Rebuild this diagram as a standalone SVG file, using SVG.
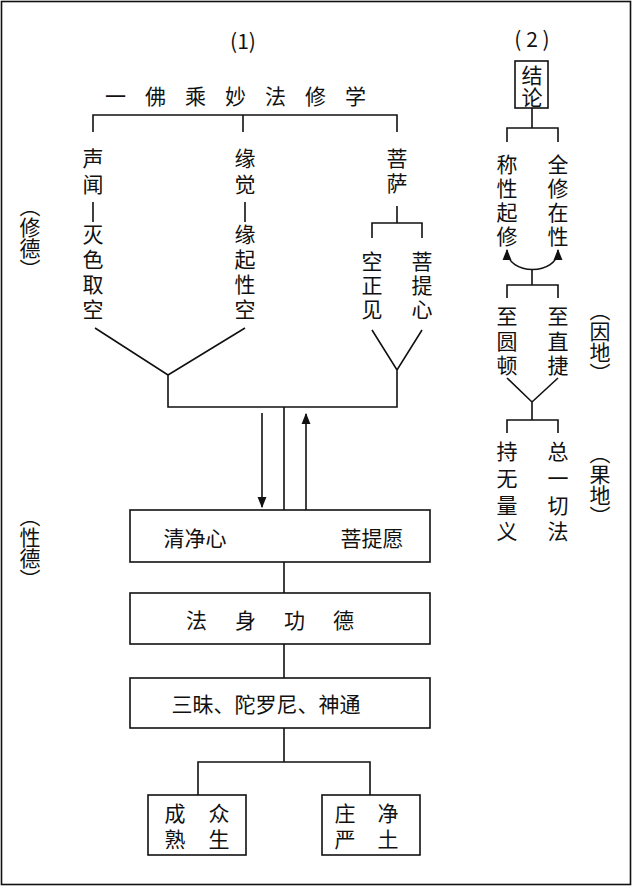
<svg xmlns="http://www.w3.org/2000/svg" width="632" height="886" viewBox="0 0 632 886">
<style>
text{font-family:"Noto Sans CJK SC","Liberation Serif",sans-serif;font-size:21px;fill:#111;text-anchor:middle;dominant-baseline:central}
.l{stroke:#111;stroke-width:1.6;fill:none}
.b{stroke:#111;stroke-width:1.6;fill:#fff}
.v{writing-mode:vertical-rl}
</style>
<defs><marker id="a" viewBox="0 0 10 10" refX="9" refY="5" markerWidth="7" markerHeight="7" orient="auto-start-reverse"><path d="M0,1L10,5L0,9z" fill="#111"/></marker></defs>
<rect x="1.5" y="1.5" width="629" height="883" class="l"/>
<g id="connectors">
<path class="l" d="M93,132V115H397V132M243,115V132M93,202V222M245,202V222M397,206V223M372,238V223H422V238"/>
<path class="l" d="M95,328L168,375L245,328M168,375V407H397V370M372,330L397,370L422,330M284,407V510"/>
<path class="l" d="M262,413V507" marker-end="url(#a)"/>
<path class="l" d="M306,510V414" marker-end="url(#a)"/>
<path class="l" d="M284,562V593M284,644V678M284,728V762M198,795V762H370V795"/>
<path class="l" d="M532,108V128M507,142V128H558V142"/>
<path class="l" d="M507,250C507,276 558,276 558,250" marker-start="url(#a)" marker-end="url(#a)"/>
<path class="l" d="M532,269V285M507,298V285H558V298M507,378L532,402L558,378M532,402V420M507,433V420H558V433"/>
</g>
<g id="titles"><text x="243" y="40">(1)</text><text x="532" y="38">( 2 )</text>
<text x="245" y="95" letter-spacing="19" font-size="24">一佛乘妙法修学</text></g>
<g id="shengwen"><text x="93" y="157">声</text><text x="93" y="183">闻</text><text x="93" y="233">灭</text><text x="93" y="258">色</text><text x="93" y="283">取</text><text x="93" y="308">空</text></g>
<g id="yuanjue"><text x="245" y="157">缘</text><text x="245" y="183">觉</text><text x="245" y="233">缘</text><text x="245" y="258">起</text><text x="245" y="283">性</text><text x="245" y="308">空</text></g>
<g id="pusa"><text x="397" y="157">菩</text><text x="397" y="182">萨</text>
<text x="372" y="260">空</text><text x="372" y="284">正</text><text x="372" y="308">见</text>
<text x="422" y="260">菩</text><text x="422" y="284">提</text><text x="422" y="308">心</text></g>
<g id="side"><text class="v" x="30" y="238">（修德）</text><text class="v" x="30" y="548">（性德）</text>
<text class="v" x="600" y="342">（因地）</text><text class="v" x="600" y="485">（果地）</text></g>
<g id="box1"><rect class="b" x="130" y="510" width="300" height="52"/><text x="195" y="537">清净心</text><text x="372" y="537">菩提愿</text></g>
<g id="box2"><rect class="b" x="130" y="593" width="300" height="51"/><text x="284" y="619" letter-spacing="28">法身功德</text></g>
<g id="box3"><rect class="b" x="130" y="678" width="300" height="50"/><text x="266" y="703">三昧、陀罗尼、神通</text></g>
<g id="box4"><rect class="b" x="148" y="795" width="98" height="60"/><text x="175" y="812">成</text><text x="175" y="838">熟</text><text x="219" y="812">众</text><text x="219" y="838">生</text></g>
<g id="box5"><rect class="b" x="322" y="795" width="98" height="60"/><text x="345" y="812">庄</text><text x="345" y="838">严</text><text x="388" y="812">净</text><text x="388" y="838">土</text></g>
<g id="jielun"><rect class="b" x="515" y="61" width="33" height="47"/><text x="532" y="74" font-size="20">结</text><text x="532" y="96" font-size="20">论</text></g>
<g id="chenxing"><text x="507" y="163">称</text><text x="507" y="187">性</text><text x="507" y="211">起</text><text x="507" y="235">修</text></g>
<g id="quanxiu"><text x="558" y="163">全</text><text x="558" y="187">修</text><text x="558" y="211">在</text><text x="558" y="235">性</text></g>
<g id="zhiyuan"><text x="507" y="315">至</text><text x="507" y="340">圆</text><text x="507" y="364">顿</text></g>
<g id="zhizhi"><text x="558" y="315">至</text><text x="558" y="340">直</text><text x="558" y="364">捷</text></g>
<g id="chi"><text x="507" y="450">持</text><text x="507" y="477">无</text><text x="507" y="504">量</text><text x="507" y="530">义</text></g>
<g id="zong"><text x="558" y="450">总</text><text x="558" y="477">一</text><text x="558" y="504">切</text><text x="558" y="530">法</text></g>
</svg>
